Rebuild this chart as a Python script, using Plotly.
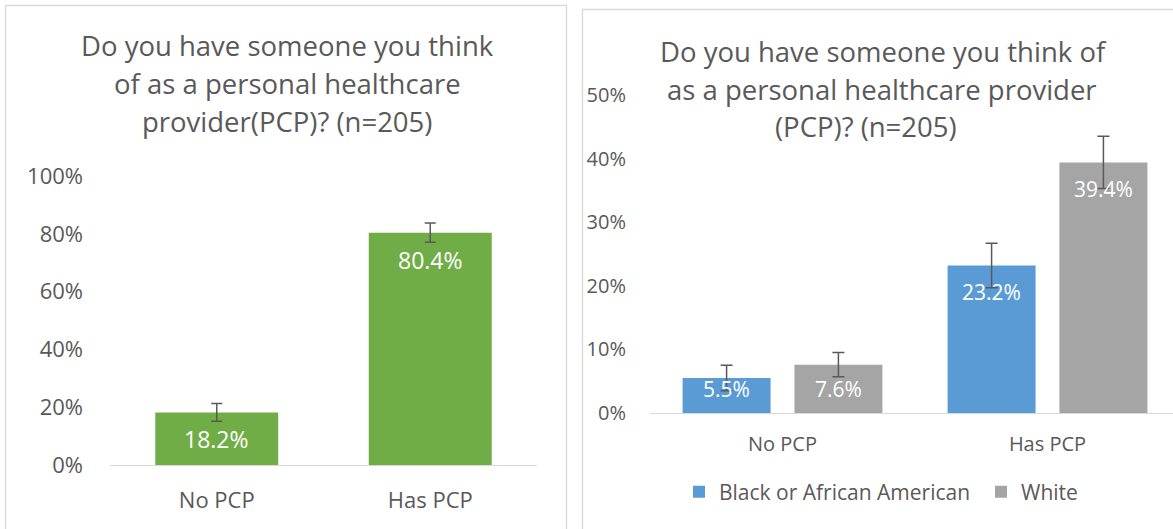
import plotly.graph_objects as go

# ---------------- data ----------------
categories = ["No PCP", "Has PCP"]
overall_pct = [18.2, 80.4]
overall_err = [3.1, 3.3]
black_pct = [5.5, 23.2]
black_err = [2.0, 3.5]
white_pct = [7.6, 39.4]
white_err = [1.9, 4.1]
series_names = ["Black or African American", "White"]
left_ticks = [0, 20, 40, 60, 80, 100]
right_ticks = [0, 10, 20, 30, 40, 50]
left_title = ["Do you have someone you think", "of as a personal healthcare", "provider(PCP)? (n=205)"]
right_title = ["Do you have someone you think of", "as a personal healthcare provider", "(PCP)? (n=205)"]

# ---------------- style ----------------
W, H = 1173, 529
FONT = "Open Sans"
TXT = "#595959"
GREEN, BLUE, GRAY = "#70AD47", "#5B9BD5", "#A5A5A5"
AXIS = "#D9D9D9"


def px(x):
    return x / W


def py(y):
    return 1 - y / H


fig = go.Figure()

# left chart
fig.add_trace(go.Bar(
    x=categories, y=overall_pct, width=0.576, marker=dict(color=GREEN, line=dict(width=0)),
    error_y=dict(type="data", array=overall_err, color=TXT, thickness=1.5, width=5.5),
    showlegend=False, xaxis="x", yaxis="y", hoverinfo="skip"))

# right chart
BW = 0.332
OFFS = [-0.377, 0.045]
for name, vals, errs, col, off in zip(series_names, [black_pct, white_pct], [black_err, white_err],
                                      [BLUE, GRAY], OFFS):
    fig.add_trace(go.Bar(
        x=categories, y=vals, name=name, width=BW, offset=off,
        marker=dict(color=col, line=dict(width=0)),
        error_y=dict(type="data", array=errs, color=TXT, thickness=1.5, width=6),
        xaxis="x2", yaxis="y2", hoverinfo="skip"))

annotations = []
# data labels
L_PPU = (465 - 176) / 100.0
R_PPU = (413 - 95) / 50.0
for i, v in enumerate(overall_pct):
    annotations.append(dict(x=i, y=v, xref="x", yref="y", text=f"{v:.1f}%", showarrow=False,
                            yanchor="middle", yshift=-min(27, v * L_PPU - 24),
                            font=dict(family=FONT, size=23, color="white")))
for vals, off in zip([black_pct, white_pct], OFFS):
    for i, v in enumerate(vals):
        annotations.append(dict(x=i + off + BW / 2, y=v, xref="x2", yref="y2", text=f"{v:.1f}%",
                                showarrow=False, yanchor="middle",
                                yshift=-min(27, v * R_PPU - 24),
                                font=dict(family=FONT, size=21, color="white")))

# titles
for line, yc in zip(left_title, [46, 84, 122]):
    annotations.append(dict(x=px(287), y=py(yc), xref="paper", yref="paper", text=line,
                            showarrow=False, xanchor="center", yanchor="middle",
                            font=dict(family=FONT, size=27.5, color=TXT)))
for line, yc, xc in zip(right_title, [51, 89, 126], [883, 882, 866]):
    annotations.append(dict(x=px(xc), y=py(yc), xref="paper", yref="paper", text=line,
                            showarrow=False, xanchor="center", yanchor="middle",
                            font=dict(family=FONT, size=27.5, color=TXT)))

shapes = [
    dict(type="rect", xref="paper", yref="paper", x0=px(5.5), x1=px(566.5), y0=-0.1, y1=py(5.5),
         line=dict(color=AXIS, width=1.3), fillcolor="rgba(0,0,0,0)", layer="below"),
    dict(type="rect", xref="paper", yref="paper", x0=px(582.5), x1=1.1, y0=-0.1, y1=py(9.5),
         line=dict(color=AXIS, width=1.3), fillcolor="rgba(0,0,0,0)", layer="below"),
]

fig.update_layout(
    width=W, height=H, margin=dict(l=0, r=0, t=0, b=0, autoexpand=False),
    paper_bgcolor="white", plot_bgcolor="rgba(0,0,0,0)",
    font=dict(family=FONT, color=TXT),
    barmode="group",
    xaxis=dict(domain=[px(110), px(537)], type="category", range=[-0.5, 1.5],
               showline=True, linecolor=AXIS, linewidth=1.3, showgrid=False, zeroline=False,
               ticks="", tickfont=dict(family=FONT, size=22, color=TXT), ticklabelstandoff=15,
               automargin=False, fixedrange=True),
    yaxis=dict(domain=[py(465), py(176)], range=[0, 100], tickvals=left_ticks,
               ticktext=[f"{t}%" for t in left_ticks], showgrid=False, zeroline=False,
               showline=False, ticks="", tickfont=dict(family=FONT, size=22, color=TXT),
               ticklabelstandoff=26, automargin=False, fixedrange=True),
    xaxis2=dict(domain=[px(650), 1.0], type="category", range=[-0.5, 1.5 - 7 / 265],
                showline=True, linecolor=AXIS, linewidth=1.3, showgrid=False, zeroline=False,
                ticks="", tickfont=dict(family=FONT, size=20, color=TXT), ticklabelstandoff=13,
                anchor="y2", automargin=False, fixedrange=True),
    yaxis2=dict(domain=[py(413), py(95)], range=[0, 50], tickvals=right_ticks,
                ticktext=[f"{t}%" for t in right_ticks], showgrid=False, zeroline=False,
                showline=False, ticks="", tickfont=dict(family=FONT, size=20, color=TXT),
                ticklabelstandoff=23, anchor="x2", automargin=False, fixedrange=True),
    legend=dict(orientation="h", x=px(679), xanchor="left", y=py(492), yanchor="middle",
                font=dict(family=FONT, size=21, color=TXT), bgcolor="rgba(0,0,0,0)",
                traceorder="normal", entrywidth=257),
    annotations=annotations, shapes=shapes,
)

fig.write_html("out.html", config={"displayModeBar": False},
               post_script="document.body.style.margin='0px';")
